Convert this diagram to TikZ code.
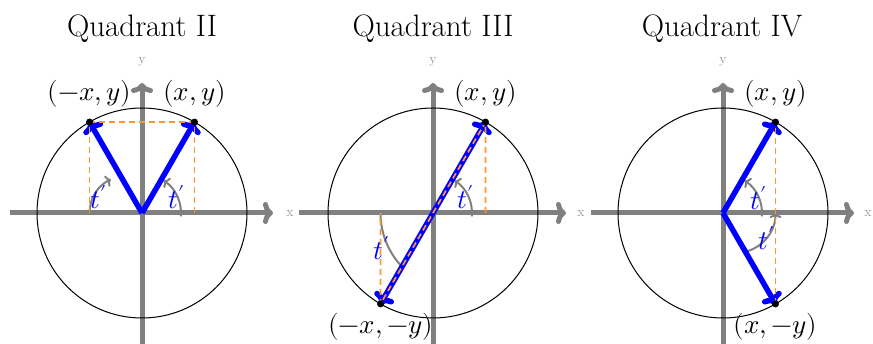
\documentclass[tikz,border=0pt]{standalone}
\usepackage{fontspec}
\usepackage{unicode-math}
\setmathfont{Latin Modern Math}
\usetikzlibrary{arrows.meta}
\definecolor{axgray}{RGB}{128,128,128}
\definecolor{lblgray}{RGB}{150,150,150}
\definecolor{dashor}{RGB}{255,150,40}
\definecolor{vecblue}{RGB}{0,0,255}
\begin{document}
\begin{tikzpicture}[x=1pt,y=1pt,
  axisline/.style={draw=axgray,line width=5pt,-{To[length=10pt,width=22pt]}},
  axlbl/.style={text=lblgray,font=\fontsize{14}{16}\selectfont,inner sep=0pt},
  ttl/.style={font=\fontsize{31}{37}\selectfont,anchor=base,inner sep=0pt},
  crd/.style={font=\fontsize{27}{32}\selectfont,anchor=base,inner sep=0pt},
  tlab/.style={text=vecblue,font=\fontsize{27}{32}\selectfont,inner sep=0pt},
  vec/.style={draw=vecblue,line width=5.5pt,-{To[length=10pt,width=22pt]}},
  dsh/.style={draw=dashor,line width=1.7pt,dash pattern=on 6pt off 4pt},
  arcst/.style={draw=axgray,line width=2pt,-{To[length=5pt,width=12pt]}},
  arcplain/.style={draw=axgray,line width=2pt},
  unitcirc/.style={draw=black,line width=1pt},
  pt/.style={fill=black}]
\useasboundingbox (0,0) rectangle (873,344);

% ---------------- Quadrant II ----------------
\node[ttl] (T2) at (142,307) {Quadrant II};
\begin{scope}[shift={(142,131)}]
  \coordinate (O2) at (0,0);
  \coordinate (A2) at (-132,0); \coordinate (B2) at (131,0);
  \coordinate (C2) at (0,-135); \coordinate (D2) at (0,130);
  \coordinate (P2) at (60:105); \coordinate (Q2) at (120:105);
  \coordinate (Px2) at (52.5,0); \coordinate (Qx2) at (-52.5,0);
  \draw[axisline] (A2) -- (B2);
  \draw[axisline] (C2) -- (D2);
  \node[axlbl] (xl2) at (148,0) {x};
  \node[axlbl] (yl2) at (0,151) {y};
  \draw[unitcirc] (O2) circle (105);
  \draw[arcst] (-5:39) arc (-5:56:39);
  \draw[arcst] (Qx2) arc (180:115:37);
  \draw[vec] (O2) -- (P2);
  \draw[vec] (O2) -- (Q2);
  \draw[dsh] (Px2) -- (P2) -- (Q2);
  \draw[dsh] (Qx2) -- (Q2);
  \fill[pt] (P2) circle (3.5);
  \fill[pt] (Q2) circle (3.5);
  \node[crd] (lp2) at ([yshift=22pt]P2) {$(x,y)$};
  \node[crd] (lq2) at ([yshift=22pt]Q2) {$(-x,y)$};
  \node[tlab] (ta2) at (35,16) {$t'$};
  \node[tlab] (tb2) at (-43,16) {$t'$};
\end{scope}

% ---------------- Quadrant III ----------------
\node[ttl] (T3) at (433,307) {Quadrant III};
\begin{scope}[shift={(433,131)}]
  \coordinate (O3) at (0,0);
  \coordinate (A3) at (-134,0); \coordinate (B3) at (133,0);
  \coordinate (C3) at (0,-135); \coordinate (D3) at (0,130);
  \coordinate (P3) at (60:105); \coordinate (Q3) at (240:105);
  \coordinate (Px3) at (52.5,0); \coordinate (Qx3) at (-52.5,0);
  \draw[axisline] (A3) -- (B3);
  \draw[axisline] (C3) -- (D3);
  \node[axlbl] (xl3) at (148,0) {x};
  \node[axlbl] (yl3) at (0,151) {y};
  \draw[unitcirc] (O3) circle (105);
  \draw[arcst] (-5:39) arc (-5:56:39);
  \draw[arcplain] (Qx3) arc (180:222:78);
  \draw[vec] (O3) -- (P3);
  \draw[vec] (O3) -- (Q3);
  \draw[dsh] (Px3) -- (P3) -- (Q3) -- (Qx3);
  \fill[pt] (P3) circle (3.5);
  \fill[pt] (Q3) circle (3.5);
  \node[crd] (lp3) at ([yshift=22pt]P3) {$(x,y)$};
  \node[crd] (lq3) at ([yshift=-30pt]Q3) {$(-x,-y)$};
  \node[tlab] (ta3) at (33,16) {$t'$};
  \node[tlab] (tb3) at (-51,-35) {$t'$};
\end{scope}

% ---------------- Quadrant IV ----------------
\node[ttl] (T4) at (722,307) {Quadrant IV};
\begin{scope}[shift={(723,131)}]
  \coordinate (O4) at (0,0);
  \coordinate (A4) at (-132,0); \coordinate (B4) at (131,0);
  \coordinate (C4) at (0,-135); \coordinate (D4) at (0,130);
  \coordinate (P4) at (60:105); \coordinate (Q4) at (-60:105);
  \coordinate (Px4) at (52.5,0);
  \draw[axisline] (A4) -- (B4);
  \draw[axisline] (C4) -- (D4);
  \node[axlbl] (xl4) at (145,0) {x};
  \node[axlbl] (yl4) at (0,151) {y};
  \draw[unitcirc] (O4) circle (105);
  \draw[arcst] (-5:39) arc (-5:56:39);
  \draw[arcst] ([shift={(-76:40)}]12.5,0) arc (-76:0:40);
  \draw[vec] (O4) -- (P4);
  \draw[vec] (O4) -- (Q4);
  \draw[dsh] (Q4) -- (P4);
  \fill[pt] (P4) circle (3.5);
  \fill[pt] (Q4) circle (3.5);
  \node[crd] (lp4) at ([yshift=22pt]P4) {$(x,y)$};
  \node[crd] (lq4) at ([yshift=-30pt]Q4) {$(x,-y)$};
  \node[tlab] (ta4) at (36,15) {$t'$};
  \node[tlab] (tb4) at (44,-25) {$t'$};
\end{scope}
\end{tikzpicture}
\end{document}
